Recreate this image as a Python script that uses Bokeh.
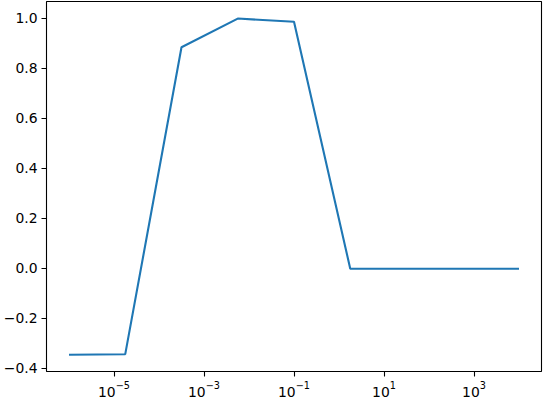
from bokeh.plotting import figure
from bokeh.models import FixedTicker, CustomJSTickFormatter, Range1d
from bokeh.embed import file_html
from bokeh.resources import INLINE

x_exponents = [-6.0, -4.75, -3.5, -2.25, -1.0, 0.25, 1.5, 2.75, 4.0]
y_values = [-0.346, -0.344, 0.884, 0.999, 0.986, -0.002, -0.002, -0.002, -0.002]
x_values = [10 ** e for e in x_exponents]
x_ticks = [1e-5, 1e-3, 1e-1, 1e1, 1e3]
y_ticks = [-0.4, -0.2, 0.0, 0.2, 0.4, 0.6, 0.8, 1.0]

p = figure(width=543, height=401, x_axis_type="log", output_backend="svg",
           toolbar_location=None, min_border_left=45, min_border_right=2,
           min_border_top=1, min_border_bottom=30)
p.x_range = Range1d(10 ** -6.5, 10 ** 4.5)
p.y_range = Range1d(-0.4133, 1.0673)
p.line(x_values, y_values, line_color="#1f77b4", line_width=2.1)

p.grid.visible = False
p.outline_line_color = "black"
p.outline_line_width = 1.1
p.background_fill_color = "white"
p.border_fill_color = "white"

p.xaxis.ticker = FixedTicker(ticks=x_ticks, minor_ticks=[])
p.yaxis.ticker = FixedTicker(ticks=y_ticks, minor_ticks=[])
p.yaxis.formatter = CustomJSTickFormatter(
    code="return (tick < -1e-9 ? '\\u2212' : '') + Math.abs(tick).toFixed(1);")

for ax in (p.xaxis[0], p.yaxis[0]):
    ax.axis_line_color = None
    ax.major_tick_in = 0
    ax.major_tick_out = 5
    ax.major_tick_line_width = 1.1
    ax.minor_tick_line_color = None
    ax.major_label_text_font = "DejaVu Sans"
    ax.major_label_text_font_size = "13.9px"
    ax.major_label_text_color = "black"
    ax.major_label_standoff = 4

open("out.html", "w").write(file_html(p, INLINE))
